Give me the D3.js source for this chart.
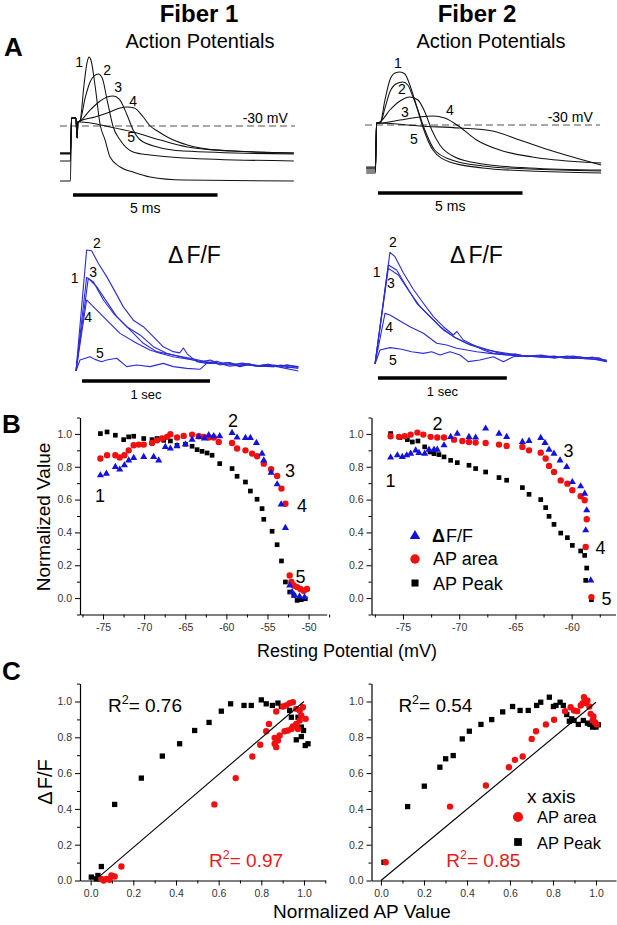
<!DOCTYPE html>
<html><head><meta charset="utf-8">
<script src="https://cdn.jsdelivr.net/npm/d3@7"></script>
<style>
body{margin:0;background:#fff}
svg{display:block}
text{font-family:"Liberation Sans",Arial,Helvetica,sans-serif}
</style></head>
<body><svg id="c" width="617" height="925"></svg>
<script>
// ---------------- DATA ----------------
// Panel A: action potentials [time ms, mV]
const apF1T1 = [[-0.38,-75.1],[-0.02,-75.1],[0.02,-23.4],[0.17,-23.4],[0.21,-39.8],[0.24,-26.7],[0.31,-25.9],[0.45,3.6],[0.56,22.5],[0.63,26.6],[0.69,24.1],[0.83,3.6],[1.01,-29.2],[1.18,-41.5],[1.35,-55.4],[1.70,-63.6],[2.15,-67.7],[2.74,-71.8],[3.89,-74.3],[7.71,-75.1]];
const apF1T2 = [[-0.38,-58.7],[-0.02,-58.7],[0.02,-23.4],[0.17,-23.4],[0.21,-39.8],[0.24,-26.7],[0.31,-25.9],[0.49,-7.0],[0.66,6.1],[0.80,11.0],[0.94,12.6],[1.08,9.3],[1.25,-8.7],[1.46,-30.8],[1.70,-41.5],[2.15,-51.3],[2.74,-53.8],[3.89,-56.2],[7.71,-58.7]];
const apF1T3 = [[-0.38,-53.0],[-0.02,-53.0],[0.02,-23.4],[0.17,-23.4],[0.21,-39.8],[0.24,-26.7],[0.31,-25.9],[0.66,-16.9],[1.01,-9.5],[1.25,-6.2],[1.46,-5.4],[1.67,-7.9],[1.94,-21.0],[2.15,-33.3],[2.40,-41.5],[2.99,-47.2],[3.89,-50.5],[7.71,-53.0]];
const apF1T4 = [[-0.38,-52.5],[-0.02,-52.5],[0.02,-23.4],[0.17,-23.4],[0.21,-39.8],[0.24,-26.7],[0.31,-25.9],[0.83,-22.6],[1.35,-18.5],[1.70,-15.2],[1.94,-14.4],[2.19,-15.2],[2.50,-22.6],[2.74,-30.0],[2.99,-34.1],[3.33,-39.0],[4.03,-45.6],[5.07,-49.7],[7.71,-52.1]];
const apF1T5 = [[-0.38,-52.0],[-0.02,-52.0],[0.02,-23.4],[0.17,-23.4],[0.21,-39.8],[0.24,-26.7],[0.31,-26.7],[1.35,-30.8],[2.15,-34.9],[3.09,-41.5],[4.03,-47.2],[5.52,-50.5],[7.71,-52.1]];
const apF2T1 = [[-0.34,-69.3],[-0.02,-69.3],[0.02,-28.4],[0.14,-28.4],[0.31,-9.5],[0.48,6.9],[0.66,12.6],[0.83,13.4],[1.0,11.8],[1.17,2.8],[1.34,-9.5],[1.62,-31.6],[1.97,-50.5],[2.55,-60.3],[3.69,-65.2],[5.31,-67.7],[7.79,-69.3]];
const apF2T2 = [[-0.34,-67.7],[-0.02,-67.7],[0.02,-28.4],[0.14,-28.4],[0.31,-16.1],[0.48,-3.0],[0.69,3.6],[0.93,5.2],[1.10,2.8],[1.28,-7.0],[1.45,-17.7],[1.69,-34.1],[2.03,-50.5],[2.62,-58.7],[3.69,-63.6],[5.31,-66.1],[7.79,-67.7]];
const apF2T3 = [[-0.34,-66.1],[-0.02,-66.1],[0.02,-28.4],[0.14,-27.5],[0.48,-17.7],[0.83,-10.3],[1.17,-7.0],[1.45,-9.5],[1.69,-19.3],[1.93,-34.1],[2.21,-46.4],[2.72,-56.2],[3.69,-62.0],[5.31,-65.2],[7.79,-66.9]];
const apF2T4 = [[-0.34,-64.4],[-0.02,-64.4],[0.02,-28.4],[0.14,-28.4],[0.83,-25.9],[1.52,-23.4],[1.97,-22.6],[2.38,-24.3],[2.90,-31.6],[3.48,-42.3],[4.28,-50.5],[5.41,-56.2],[7.14,-60.3],[7.79,-61.1]];
const apF2T5 = [[-0.34,-65.2],[-0.02,-65.2],[0.02,-28.4],[0.14,-28.4],[1.52,-30.8],[2.90,-32.5],[4.03,-34.9],[4.97,-42.3],[6.0,-50.5],[7.79,-62.8]];
const apF1Labels = [["1",0.28,22.5],["2",1.25,15.9],["3",1.63,2.0],["4",2.15,-9.5],["5",2.08,-39]];
const apF2Labels = [["1",0.76,20.8],["2",0.9,-0.5],["3",1.0,-19.3],["4",2.56,-17.7],["5",1.31,-41.5]];
const apDash = [-0.38, 7.75];      // extent of -30 mV reference line (ms)
const apBar = [0.07, 5.07];        // 5 ms scale bar

// Panel A: fluorescence transients [time s, relative dF/F]
const dfF1T1 = [[0,0],[0.083,0.774],[0.135,0.738],[0.214,0.587],[0.292,0.477],[0.396,0.366],[0.5,0.298],[0.604,0.201],[0.708,0.146],[0.813,0.118],[0.969,0.077],[1.05,0.09],[1.125,0.058],[1.2,0.07],[1.28,0.045],[1.35,0.06],[1.42,0.04],[1.5,0.055],[1.57,0.035],[1.65,0.05],[1.737,0.03]];
const dfF1T2 = [[0,0],[0.083,1.0],[0.122,0.994],[0.174,0.89],[0.24,0.78],[0.305,0.656],[0.37,0.53],[0.448,0.42],[0.526,0.366],[0.604,0.284],[0.682,0.2],[0.76,0.16],[0.81,0.15],[0.839,0.19],[0.87,0.14],[0.943,0.077],[1.021,0.063],[1.08,0.075],[1.125,0.05],[1.2,0.06],[1.281,0.036],[1.35,0.055],[1.42,0.04],[1.542,0.036],[1.6,0.05],[1.68,0.03],[1.737,0.022]];
const dfF1T3 = [[0,0],[0.096,0.766],[0.161,0.697],[0.24,0.573],[0.318,0.449],[0.422,0.339],[0.526,0.229],[0.63,0.16],[0.76,0.132],[0.891,0.105],[1.021,0.077],[1.1,0.06],[1.18,0.07],[1.26,0.045],[1.34,0.06],[1.45,0.04],[1.55,0.05],[1.65,0.03],[1.737,0.036]];
const dfF1T4 = [[0,0],[0.083,0.587],[0.135,0.532],[0.24,0.421],[0.344,0.311],[0.474,0.229],[0.578,0.174],[0.656,0.146],[0.76,0.118],[0.917,0.091],[1.021,0.069],[1.1,0.08],[1.19,0.05],[1.3,0.065],[1.4,0.04],[1.5,0.055],[1.6,0.03],[1.737,0.0]];
const dfF1T5 = [[0,0],[0.031,0.091],[0.109,0.118],[0.148,0.096],[0.2,0.077],[0.24,0.091],[0.318,0.105],[0.396,0.036],[0.474,0.05],[0.578,0.036],[0.682,0.063],[0.76,0.036],[0.865,0.022],[0.969,0.014],[1.021,0.063],[1.125,0.063],[1.2,0.04],[1.281,0.05],[1.4,0.045],[1.542,0.036],[1.65,0.05],[1.737,0.036]];
const dfF2T1 = [[0,0],[0.104,0.884],[0.169,0.839],[0.247,0.69],[0.326,0.542],[0.404,0.452],[0.508,0.333],[0.612,0.244],[0.716,0.185],[0.846,0.14],[0.977,0.095],[1.08,0.085],[1.185,0.071],[1.3,0.08],[1.4,0.055],[1.5,0.07],[1.6,0.05],[1.7,0.06],[1.81,0.03]];
const dfF2T2 = [[0,0],[0.117,0.997],[0.156,0.958],[0.221,0.815],[0.299,0.667],[0.378,0.542],[0.456,0.423],[0.534,0.333],[0.612,0.259],[0.64,0.29],[0.69,0.214],[0.768,0.17],[0.846,0.125],[0.924,0.095],[1.029,0.08],[1.1,0.09],[1.185,0.065],[1.3,0.075],[1.419,0.06],[1.55,0.07],[1.65,0.05],[1.75,0.055],[1.81,0.021]];
const dfF2T3 = [[0,0],[0.104,0.854],[0.182,0.795],[0.26,0.661],[0.352,0.512],[0.43,0.423],[0.534,0.304],[0.638,0.229],[0.742,0.17],[0.872,0.125],[1.029,0.095],[1.15,0.075],[1.289,0.065],[1.4,0.07],[1.5,0.05],[1.6,0.065],[1.7,0.045],[1.81,0.021]];
const dfF2T4 = [[0,0],[0.078,0.452],[0.117,0.4375],[0.182,0.393],[0.273,0.333],[0.378,0.274],[0.482,0.185],[0.56,0.17],[0.638,0.14],[0.716,0.125],[0.794,0.11],[0.898,0.095],[1.029,0.08],[1.15,0.07],[1.289,0.065],[1.4,0.055],[1.5,0.065],[1.65,0.045],[1.81,0.036]];
const dfF2T5 = [[0,0],[0.039,0.125],[0.117,0.146],[0.208,0.131],[0.286,0.11],[0.378,0.095],[0.443,0.11],[0.508,0.08],[0.586,0.11],[0.664,0.08],[0.729,0.021],[0.82,0.036],[0.924,0.065],[1.003,0.021],[1.081,0.065],[1.185,0.071],[1.3,0.06],[1.419,0.06],[1.55,0.05],[1.7,0.06],[1.81,0.021]];
const dfF1Labels = [["1",-0.01,0.77],["2",0.164,1.058],["3",0.133,0.818],["4",0.094,0.446],["5",0.1875,0.149]];
const dfF2Labels = [["1",0.013,0.82],["2",0.14,1.09],["3",0.125,0.723],["4",0.11,0.33],["5",0.14,0.036]];
const dfBarF1 = [0.047, 1.047];
const dfBarF2 = [0.023, 1.03];

// Panel B: normalized values vs resting potential [mV, value]
const bF1Peak = [[-75.32,1.002],[-74.51,1.012],[-73.5,0.992],[-72.49,0.965],[-71.88,0.982],[-71.27,0.986],[-70.05,0.972],[-69.04,0.965],[-68.43,0.972],[-67.62,0.961],[-66.81,0.957],[-66.0,0.931],[-64.98,0.937],[-64.17,0.925],[-63.56,0.904],[-62.96,0.894],[-62.35,0.884],[-61.74,0.87],[-60.81,0.819],[-59.31,0.789],[-58.7,0.742],[-57.68,0.707],[-57.08,0.652],[-56.27,0.602],[-55.66,0.545],[-55.45,0.48],[-54.44,0.407],[-53.83,0.325],[-53.3,0.226],[-52.82,0.098],[-52.3,0.037],[-51.8,0.016],[-51.4,-0.014],[-50.9,-0.01],[-50.4,-0.004]];
const bF1Area = [[-75.32,0.85],[-74.51,0.87],[-73.5,0.87],[-72.97,0.856],[-72.4,0.87],[-71.88,0.9],[-71.27,0.931],[-70.66,0.935],[-70.05,0.935],[-69.04,0.945],[-68.43,0.961],[-67.82,0.972],[-67.21,0.982],[-66.81,0.998],[-66.0,0.978],[-65.19,0.988],[-64.17,0.996],[-63.36,0.986],[-62.75,0.982],[-62.15,0.978],[-61.54,0.978],[-60.93,0.951],[-59.31,0.945],[-58.7,0.911],[-57.68,0.9],[-56.87,0.88],[-56.27,0.864],[-55.45,0.819],[-54.56,0.785],[-53.83,0.744],[-53.3,0.667],[-52.82,0.575],[-52.3,0.138],[-52.1,0.098],[-51.8,0.077],[-51.4,0.067],[-51.0,0.055],[-50.6,0.045],[-50.2,0.055]];
const bF1DF = [[-75.32,0.748],[-74.59,0.758],[-73.5,0.799],[-72.97,0.783],[-72.4,0.809],[-71.88,0.839],[-71.27,0.854],[-70.05,0.86],[-68.84,0.86],[-68.23,0.839],[-67.42,0.921],[-66.81,0.911],[-66.0,0.925],[-64.98,0.937],[-64.17,0.965],[-63.36,0.982],[-62.67,0.972],[-62.15,0.992],[-61.54,0.986],[-60.81,0.986],[-59.31,1.006],[-58.7,0.978],[-57.68,0.976],[-57.08,0.976],[-56.35,0.945],[-55.66,0.88],[-55.45,0.839],[-54.56,0.764],[-53.83,0.693],[-53.34,0.571],[-52.82,0.427],[-52.3,0.077],[-52.0,0.037],[-51.7,0.016],[-51.1,0.01],[-50.5,0.006]];
const bF2Peak = [[-76.1,1.002],[-75.27,0.978],[-74.61,0.965],[-74.17,0.951],[-73.67,0.957],[-73.07,0.921],[-72.6,0.89],[-72.24,0.88],[-71.8,0.874],[-71.35,0.86],[-70.76,0.839],[-70.17,0.825],[-69.13,0.809],[-68.54,0.789],[-67.65,0.768],[-66.46,0.734],[-65.78,0.718],[-64.38,0.673],[-63.79,0.632],[-62.75,0.6],[-62.31,0.551],[-62.01,0.498],[-61.57,0.449],[-60.97,0.396],[-60.38,0.368],[-59.94,0.321],[-59.2,0.287],[-58.84,0.26],[-58.66,0.183],[-58.75,0.108],[-58.24,-0.01]];
const bF2Area = [[-76.1,0.986],[-75.36,0.982],[-74.85,0.986],[-74.32,0.996],[-73.72,1.008],[-73.19,0.996],[-72.54,0.982],[-71.95,0.978],[-71.35,0.978],[-70.46,0.965],[-69.72,0.957],[-69.13,0.951],[-68.54,0.947],[-67.65,0.945],[-66.46,0.935],[-65.78,0.927],[-64.38,0.921],[-63.79,0.9],[-62.75,0.886],[-62.31,0.85],[-62.01,0.805],[-61.57,0.768],[-60.97,0.717],[-60.38,0.697],[-59.94,0.657],[-59.2,0.62],[-58.84,0.596],[-58.66,0.48],[-58.75,0.311],[-58.24,0.006]];
const bF2DF = [[-76.1,0.856],[-75.5,0.87],[-75.06,0.86],[-74.67,0.87],[-74.32,0.88],[-73.87,0.9],[-73.58,0.884],[-73.07,0.88],[-72.69,0.904],[-72.24,0.904],[-71.95,0.904],[-71.35,0.931],[-70.76,0.982],[-70.17,1.002],[-69.13,0.982],[-68.54,0.978],[-67.65,1.033],[-66.46,1.002],[-65.78,0.982],[-64.38,0.951],[-63.79,0.957],[-62.75,0.976],[-62.37,0.945],[-62.01,0.904],[-61.57,0.88],[-61.03,0.839],[-60.44,0.799],[-59.94,0.707],[-59.2,0.681],[-58.84,0.636],[-58.66,0.535],[-58.75,0.413],[-58.3,0.108]];
const bF1Labels = [["1",-75.37,0.626],["2",-59.19,1.083],["3",-52.25,0.778],["4",-50.79,0.565],["5",-51.0,0.132]];
const bF2Labels = [["1",-76.11,0.717],["2",-71.93,1.065],["3",-60.27,0.9],["4",-57.43,0.309],["5",-56.89,-0.002]];
const bYTicks = [0, 0.2, 0.4, 0.6, 0.8, 1.0];
const bYMinor = [-0.1, 0.1, 0.3, 0.5, 0.7, 0.9, 1.1];
const bF1XTicks = [-75, -70, -65, -60, -55, -50];
const bF1XMinor = [-77.5, -72.5, -67.5, -62.5, -57.5, -52.5, -47.5];
const bF2XTicks = [-75, -70, -65, -60];
const bF2XMinor = [-77.5, -72.5, -67.5, -62.5, -57.5];

// Panel C: dF/F vs normalized AP value [x, y]
const cF1Peak = [[0.003,0.019],[0.027,0.009],[0.034,0.028],[0.05,0.078],[0.1125,0.425],[0.2375,0.572],[0.336,0.695],[0.417,0.764],[0.4875,0.838],[0.555,0.883],[0.6125,0.946],[0.656,0.987],[0.719,0.978],[0.753,0.978],[0.8,1.009],[0.823,0.987],[0.852,0.978],[0.878,0.991],[0.894,0.972],[0.933,0.95],[0.941,0.912],[0.972,0.912],[0.9875,0.857],[0.998,0.838],[0.964,0.786],[0.9875,0.804],[1.006,0.754],[1.019,0.764]];
const cF1Area = [[0.05,0.009],[0.061,0.0],[0.073,0.009],[0.089,0.004],[0.097,0.028],[0.1125,0.022],[0.144,0.078],[0.58,0.425],[0.68,0.572],[0.758,0.693],[0.795,0.758],[0.823,0.834],[0.836,0.875],[0.8625,0.797],[0.8625,0.764],[0.87,0.745],[0.878,0.782],[0.886,0.81],[0.909,0.834],[0.925,0.838],[0.941,0.847],[0.948,0.86],[0.964,0.875],[0.972,0.847],[0.87,0.944],[0.902,0.972],[0.917,0.978],[0.948,0.996],[0.964,0.959],[0.98,0.95],[0.9875,0.922],[0.995,0.968],[1.008,0.903],[0.98,0.894],[0.933,0.991]];
const cF2Peak = [[0.014,0.102],[0.124,0.413],[0.2016,0.527],[0.274,0.633],[0.301,0.68],[0.336,0.698],[0.378,0.791],[0.411,0.834],[0.465,0.872],[0.515,0.899],[0.566,0.942],[0.612,0.972],[0.647,0.95],[0.685,0.95],[0.724,0.978],[0.743,0.996],[0.783,1.024],[0.802,0.972],[0.814,0.978],[0.833,0.996],[0.848,0.978],[0.864,0.927],[0.876,0.89],[0.887,0.903],[0.898,0.894],[0.918,0.872],[0.941,0.894],[0.96,0.879],[0.972,0.872],[0.984,0.857],[1.0,0.857],[1.011,0.87]];
const cF2Area = [[0.022,0.102],[0.321,0.413],[0.488,0.531],[0.595,0.633],[0.623,0.674],[0.659,0.693],[0.701,0.791],[0.721,0.834],[0.767,0.872],[0.805,0.898],[0.856,0.946],[0.882,0.968],[0.898,0.95],[0.913,0.946],[0.929,0.978],[0.938,0.991],[0.944,1.024],[0.953,0.991],[0.96,1.006],[0.969,0.972],[0.975,0.931],[0.984,0.894],[0.995,0.885],[1.003,0.872],[0.988,0.916]];
const cF1Fit = [[0.04,0.022],[1.0,1.0]];
const cF2Fit = [[0.0,0.0],[1.0,0.996]];
const cF1R2 = ["0.76", "0.97"];
const cF2R2 = ["0.54", "0.85"];
const cTicks = [0, 0.2, 0.4, 0.6, 0.8, 1.0];
const cMinor = [0.1, 0.3, 0.5, 0.7, 0.9, 1.1];

// ---------------- DRAW ----------------
const svg = d3.select("#c");
const BLUE_LINE = "#2b2bd8", BLUE = "#1212e0", RED = "#f01010", REDTXT = "#e81a1a";

function txt(x, y, s, size, opt = {}) {
  return svg.append("text").attr("x", x).attr("y", y).attr("font-size", size)
    .attr("text-anchor", opt.anchor || "start").attr("font-weight", opt.bold ? "bold" : null)
    .attr("fill", opt.fill || "#000").text(s);
}

// Panel letters & fiber titles
txt(4, 56, "A", 26, {bold: true});
txt(2, 433, "B", 26, {bold: true});
txt(2, 680, "C", 26, {bold: true});
txt(199, 22, "Fiber 1", 24, {bold: true, anchor: "middle"});
txt(477, 22, "Fiber 2", 24, {bold: true, anchor: "middle"});

// ---- Panel A: action potentials
function apPanel(traces, labels, x0, dashY, barY, titleX) {
  const x = d3.scaleLinear().domain([0, 5]).range([x0, x0 + 5 * 28.9]);
  const y = d3.scaleLinear().domain([-30, 0]).range([dashY, dashY - 30 * 1.22]);
  txt(titleX, 48, "Action Potentials", 20, {anchor: "middle"});
  svg.append("line").attr("x1", x(apDash[0])).attr("x2", x(apDash[1]))
    .attr("y1", y(-30)).attr("y2", y(-30))
    .attr("stroke", "#8c8c8c").attr("stroke-width", 1.3).attr("stroke-dasharray", "7,4");
  txt(x(7.5), y(-30) - 3, "-30 mV", 14, {anchor: "end"});
  const line = d3.line().x(d => x(d[0])).y(d => y(d[1])).curve(d3.curveMonotoneX);
  traces.forEach(tr => svg.append("path").datum(tr).attr("d", line)
    .attr("fill", "none").attr("stroke", "#111").attr("stroke-width", 1.05));
  labels.forEach(l => txt(x(l[1]), y(l[2]), l[0], 14, {anchor: "middle"}).attr("dy", "0.35em"));
  svg.append("line").attr("x1", x(apBar[0])).attr("x2", x(apBar[1])).attr("y1", barY).attr("y2", barY)
    .attr("stroke", "#000").attr("stroke-width", 3.5);
  txt(x((apBar[0] + apBar[1]) / 2), barY + 18, "5 ms", 14, {anchor: "middle"});
}
apPanel([apF1T1, apF1T2, apF1T3, apF1T4, apF1T5], apF1Labels, 71, 126, 195, 200);
apPanel([apF2T1, apF2T2, apF2T3, apF2T4, apF2T5], apF2Labels, 376, 125, 193, 491);

// ---- Panel A: dF/F transients
function dfPanel(traces, labels, bar, x0, baseY, pxPerUnit, barY, titleX) {
  const x = d3.scaleLinear().domain([0, 1]).range([x0, x0 + 128]);
  const y = d3.scaleLinear().domain([0, 1]).range([baseY, baseY - pxPerUnit]);
  const t = svg.append("text").attr("x", titleX).attr("y", 263).attr("font-size", 23);
  t.append("tspan").text("Δ");
  t.append("tspan").attr("dx", 3).text("F/F");
  const line = d3.line().x(d => x(d[0])).y(d => y(d[1]));
  traces.forEach(tr => svg.append("path").datum(tr).attr("d", line)
    .attr("fill", "none").attr("stroke", BLUE_LINE).attr("stroke-width", 1.1).attr("stroke-linejoin", "round"));
  labels.forEach(l => txt(x(l[1]), y(l[2]), l[0], 14, {anchor: "middle"}).attr("dy", "0.35em"));
  svg.append("line").attr("x1", x(bar[0])).attr("x2", x(bar[1])).attr("y1", barY).attr("y2", barY)
    .attr("stroke", "#000").attr("stroke-width", 3.5);
  txt(x((bar[0] + bar[1]) / 2), barY + 18, "1 sec", 13, {anchor: "middle"});
}
dfPanel([dfF1T1, dfF1T2, dfF1T3, dfF1T4, dfF1T5], dfF1Labels, dfBarF1, 76, 371, 121, 381, 168);
dfPanel([dfF2T1, dfF2T2, dfF2T3, dfF2T4, dfF2T5], dfF2Labels, dfBarF2, 375, 364, 112, 378, 450);

// ---- axis helper
function axes(x, y, xMajor, xMinor, yMajor, yMinor, xFmt, yFmt) {
  const y0 = y.range()[0], x0 = x.range()[0];
  const styleAx = g => {
    g.select(".domain").attr("stroke", "#000").attr("stroke-width", 1.2);
    g.selectAll(".tick line").attr("stroke", "#000").attr("stroke-width", 1);
    g.selectAll(".tick text").attr("fill", "#333").attr("font-size", 10.5)
      .attr("font-family", '"Liberation Sans",Arial,sans-serif');
  };
  svg.append("g").attr("transform", `translate(0,${y0})`)
    .call(d3.axisBottom(x).tickValues(xMinor).tickSize(3).tickSizeOuter(0).tickFormat(""))
    .call(g => g.select(".domain").remove())
    .call(g => g.selectAll(".tick line").attr("stroke", "#000"));
  svg.append("g").attr("transform", `translate(0,${y0})`)
    .call(d3.axisBottom(x).tickValues(xMajor).tickSize(5).tickSizeOuter(0).tickPadding(4).tickFormat(xFmt))
    .call(styleAx);
  svg.append("g").attr("transform", `translate(${x0},0)`)
    .call(d3.axisLeft(y).tickValues(yMinor).tickSize(3).tickSizeOuter(0).tickFormat(""))
    .call(g => g.select(".domain").remove())
    .call(g => g.selectAll(".tick line").attr("stroke", "#000"));
  svg.append("g").attr("transform", `translate(${x0},0)`)
    .call(d3.axisLeft(y).tickValues(yMajor).tickSize(5).tickSizeOuter(0).tickPadding(3).tickFormat(yFmt))
    .call(styleAx);
}
const f1 = d3.format(".1f");
const fInt = d => String(d);

function scatter(data, x, y, type, size, fill) {
  const sym = d3.symbol().type(type).size(size);
  svg.append("g").selectAll("path").data(data).join("path")
    .attr("transform", d => `translate(${x(d[0])},${y(d[1])})`)
    .attr("d", sym).attr("fill", fill);
}

// ---- Panel B
function bPanel(xDomain, xRange, xTicks, xMinor, peak, area, df, labels) {
  const x = d3.scaleLinear().domain(xDomain).range(xRange);
  const y = d3.scaleLinear().domain([-0.1, 1.1]).range([614.5, 417.5]);
  axes(x, y, xTicks, xMinor, bYTicks, bYMinor, fInt, f1);
  scatter(peak, x, y, d3.symbolSquare, 22, "#000");
  scatter(area, x, y, d3.symbolCircle, 32, RED);
  scatter(df, x, y, d3.symbolTriangle, 22, BLUE);
  labels.forEach(l => txt(x(l[1]), y(l[2]), l[0], 18, {anchor: "middle"}).attr("dy", "0.35em"));
  return {x, y};
}
bPanel([-77.8, -47.8], [80, 326.7], bF1XTicks, bF1XMinor, bF1Peak, bF1Area, bF1DF, bF1Labels);
bPanel([-77.8, -56.1], [371.5, 615.5], bF2XTicks, bF2XMinor, bF2Peak, bF2Area, bF2DF, bF2Labels);

// B legend
svg.append("path").attr("transform", "translate(415,536)").attr("d", d3.symbol().type(d3.symbolTriangle).size(48)()).attr("fill", BLUE);
svg.append("path").attr("transform", "translate(415,559)").attr("d", d3.symbol().type(d3.symbolCircle).size(70)()).attr("fill", RED);
svg.append("path").attr("transform", "translate(415,583)").attr("d", d3.symbol().type(d3.symbolSquare).size(50)()).attr("fill", "#000");
{
  const t = svg.append("text").attr("x", 432).attr("y", 542).attr("font-size", 18);
  t.append("tspan").attr("font-weight", "bold").text("Δ");
  t.append("tspan").attr("dx", 1).text("F/F");
}
txt(433, 565, "AP area", 18);
txt(433, 590, "AP Peak", 18);

// B axis titles
svg.append("text").attr("transform", "translate(50,517) rotate(-90)").attr("text-anchor", "middle")
  .attr("font-size", 19).text("Normalized Value");
txt(347, 657, "Resting Potential (mV)", 18, {anchor: "middle"});

// ---- Panel C
function r2(x, y, val, fill) {
  const t = svg.append("text").attr("x", x).attr("y", y).attr("font-size", 19).attr("fill", fill);
  t.append("tspan").text("R");
  t.append("tspan").attr("dy", -8).attr("font-size", 12.5).text("2");
  t.append("tspan").attr("dy", 8).text("= " + val);
}
function cPanel(xDomain, xRange, peak, area, fit, r2v) {
  const x = d3.scaleLinear().domain(xDomain).range(xRange);
  const y = d3.scaleLinear().domain([0, 1.1]).range([880.5, 683.6]);
  axes(x, y, cTicks, cMinor, cTicks, cMinor, f1, f1);
  scatter(peak, x, y, d3.symbolSquare, 28, "#000");
  scatter(area, x, y, d3.symbolCircle, 32, RED);
  svg.append("line").attr("x1", x(fit[0][0])).attr("y1", y(fit[0][1]))
    .attr("x2", x(fit[1][0])).attr("y2", y(fit[1][1])).attr("stroke", "#000").attr("stroke-width", 1.1);
  r2(x(0.081), y(0.939), r2v[0], "#000");
  r2(x(0.555) + (xRange[0] > 200 ? -54 : 0), y(0.078), r2v[1], REDTXT);
  return {x, y};
}
cPanel([-0.05, 1.1], [80, 325.3], cF1Peak, cF1Area, cF1Fit, cF1R2);
cPanel([-0.044, 1.093], [371.5, 616], cF2Peak, cF2Area, cF2Fit, cF2R2);

// C legend
txt(527, 803, "x axis", 19);
svg.append("path").attr("transform", "translate(518,817)").attr("d", d3.symbol().type(d3.symbolCircle).size(80)()).attr("fill", RED);
svg.append("path").attr("transform", "translate(518,842)").attr("d", d3.symbol().type(d3.symbolSquare).size(60)()).attr("fill", "#000");
txt(537, 823, "AP area", 16.5);
txt(537, 849, "AP Peak", 16.5);

// C axis titles
{
  const t = svg.append("text").attr("transform", "translate(52,782) rotate(-90)").attr("text-anchor", "middle").attr("font-size", 20);
  t.append("tspan").text("Δ");
  t.append("tspan").attr("dx", 2).text("F/F");
}
txt(362, 918, "Normalized AP Value", 19, {anchor: "middle"});
</script></body></html>
